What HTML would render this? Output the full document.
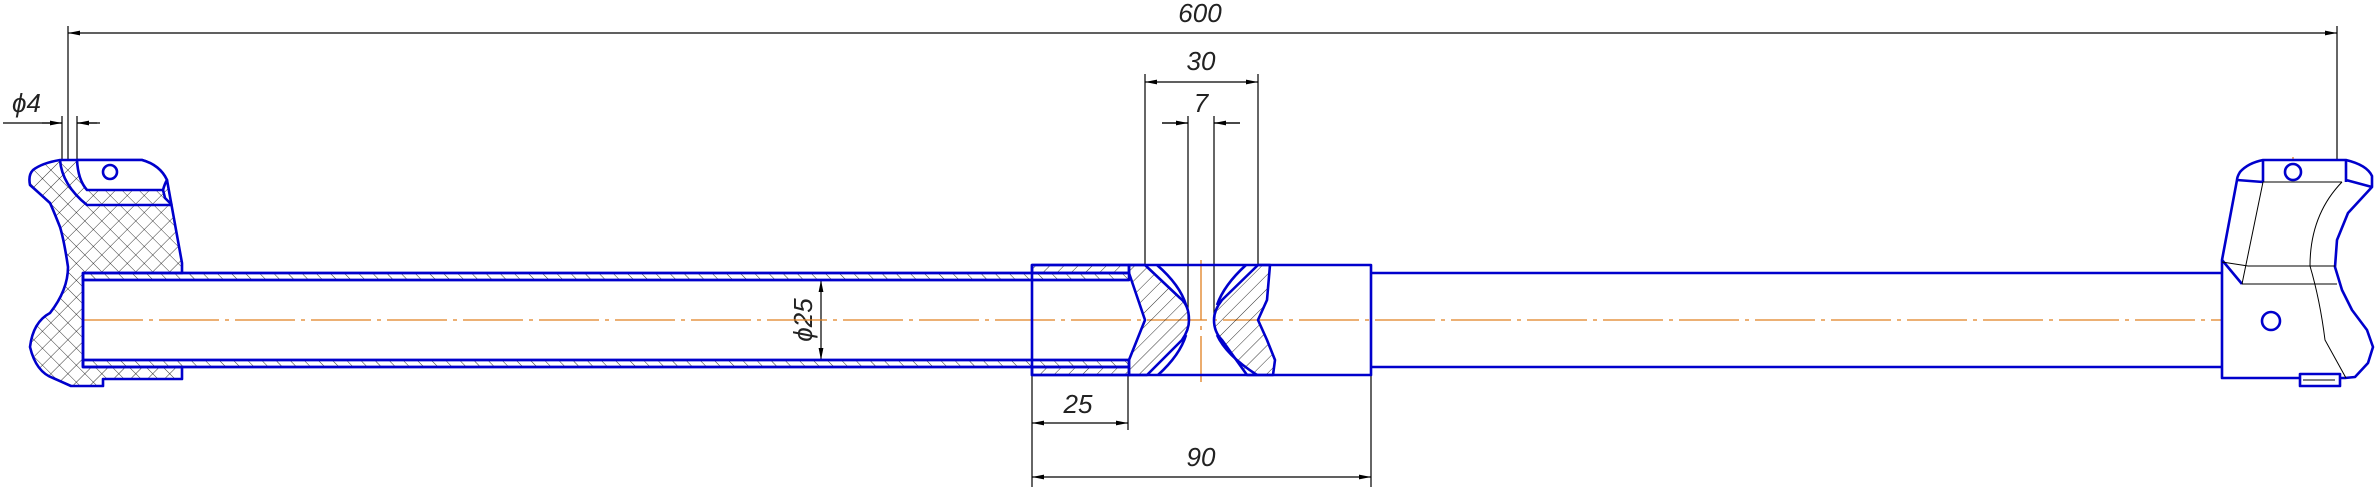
<!DOCTYPE html>
<html><head><meta charset="utf-8"><style>html,body{margin:0;padding:0;background:#fff}svg{display:block}text{font-family:"Liberation Sans",sans-serif;font-style:italic;font-size:26px;fill:#222}</style></head>
<body>
<svg width="2375" height="487" viewBox="0 0 2375 487" xmlns="http://www.w3.org/2000/svg">
<defs>
<pattern id="cross" width="12" height="12" patternUnits="userSpaceOnUse" patternTransform="rotate(45)">
<path d="M0 0H12M0 0V12" stroke="#000" stroke-width="0.8"/></pattern>
<pattern id="diag" width="10" height="10" patternUnits="userSpaceOnUse" patternTransform="rotate(45)">
<path d="M0 0V10" stroke="#000" stroke-width="0.8"/></pattern>
<pattern id="diag2" width="10" height="10" patternUnits="userSpaceOnUse" patternTransform="rotate(-45)">
<path d="M0 0V10" stroke="#000" stroke-width="0.8"/></pattern>
<marker id="a" viewBox="0 0 10 6" refX="10" refY="3" markerWidth="10" markerHeight="6" orient="auto-start-reverse"><path d="M0 1L10 3L0 5z" fill="#000"/></marker>
</defs>
<g fill="none" stroke="#000" stroke-width="1.2">
<path d="M68 26V160M2337 26V160"/>
<path d="M68 33H2337" marker-start="url(#a)" marker-end="url(#a)"/>
<path d="M62 116V160M77 116V160M3 123H62M77 123H100"/>
<path d="M42 123H62" marker-end="url(#a)"/><path d="M97 123H77" marker-end="url(#a)"/>
<path d="M1145 74V265M1258 74V265"/>
<path d="M1145 82H1258" marker-start="url(#a)" marker-end="url(#a)"/>
<path d="M1188 116V320M1214 116V320M1162 123H1188M1214 123H1240"/>
<path d="M1162 123H1188" marker-end="url(#a)"/><path d="M1240 123H1214" marker-end="url(#a)"/>
<path d="M1032 375V487M1128 375V430"/>
<path d="M1032 423H1128" marker-start="url(#a)" marker-end="url(#a)"/>
<path d="M1371 375V487"/>
<path d="M1032 477H1371" marker-start="url(#a)" marker-end="url(#a)"/>
<path d="M821 280V360" marker-start="url(#a)" marker-end="url(#a)"/>
</g>
<text x="1200" y="22" text-anchor="middle">600</text>
<text x="12" y="112" font-size="24">ϕ4</text>
<text x="1201" y="70" text-anchor="middle">30</text>
<text x="1201" y="112" text-anchor="middle">7</text>
<text x="1078" y="413" text-anchor="middle">25</text>
<text x="1201" y="466" text-anchor="middle">90</text>
<text transform="translate(812 320) rotate(-90)" text-anchor="middle" font-size="24">ϕ25</text>

<g stroke="#e08020" stroke-width="1.3" fill="none" stroke-dasharray="60 6 4 6">
<path d="M83 320H2288"/>
<path d="M1201 260V382"/>
<path d="M2278 172H2308M2293 157V188M2256 321H2288M2271 305V337"/>
</g>

<g stroke="#0000cc" stroke-width="2.6" stroke-linejoin="round">
<path fill="url(#cross)" d="M60 160H142Q160 165 167 180L182 263V273H83V367H182V379H103V386H71L53 378Q36 372 30 347Q33 322 50 313Q68 290 68 267Q64 240 60 227Q52 207 50 203Q38 192 30 185Q28 175 33 170Q42 163 60 160Z"/>
<path fill="#fff" d="M77 160Q78 180 87 190H163Q165 183 167 180Q160 165 142 160Z"/>
<path fill="none" d="M60 160Q62 185 87 205H172M163 190L165 198L172 205"/>
<circle cx="110" cy="172" r="7" fill="#fff"/>
<rect x="83" y="273" width="1046" height="7" fill="url(#diag2)"/>
<rect x="83" y="360" width="1046" height="7" fill="url(#diag2)"/>
<path fill="none" d="M83 273H1129M83 280H1129M83 360H1129M83 367H1129M83 273V367"/>
<rect x="1032" y="265" width="97" height="8" fill="url(#diag)"/>
<rect x="1032" y="367" width="97" height="8" fill="url(#diag)"/>
<path fill="none" d="M1032 265H1371V375H1032Z"/>
<path fill="none" d="M1371 273H2222M1371 367H2222"/>
<path fill="url(#diag)" d="M1129 273L1145 320L1129 360V375H1147L1182 340Q1189 330 1189 320Q1189 305 1180 298L1145 265H1129Z"/>
<path fill="none" d="M1157 265Q1180 285 1186 305M1158 375Q1180 355 1186 335"/>
<path fill="url(#diag)" d="M1258 265L1222 300Q1214 310 1214 320Q1214 332 1222 340L1247 375H1273L1275 360L1267 340L1258 320L1267 300L1270 265Z"/>
<path fill="none" d="M1246 265Q1224 285 1217 305M1257 375Q1226 355 1217 335"/>
<path fill="#fff" d="M2263 160Q2248 163 2240 172Q2237 177 2237 180L2222 260V378H2345L2355 377L2368 363L2373 347L2367 330L2352 310L2342 290L2335 267L2337 240L2348 213L2372 187L2372 176Q2367 165 2346 160Z"/>
<path fill="none" d="M2263 160V182M2346 160V182M2237 180L2263 182M2346 180L2372 187M2222 260L2242 284"/>
<rect x="2300" y="374" width="40" height="12" fill="#fff"/>
<circle cx="2293" cy="172" r="8" fill="none"/>
<circle cx="2271" cy="321" r="9" fill="none"/>
</g>
<g stroke="#000" stroke-width="1" fill="none">
<path d="M2263 182H2342M2222 262L2248 266H2335M2242 284H2337"/>
<path d="M2263 182L2242 284M2342 182Q2310 215 2310 266Q2320 300 2325 340L2346 378"/>
<path d="M2303 380H2335"/>
</g>
</svg>
</body></html>
